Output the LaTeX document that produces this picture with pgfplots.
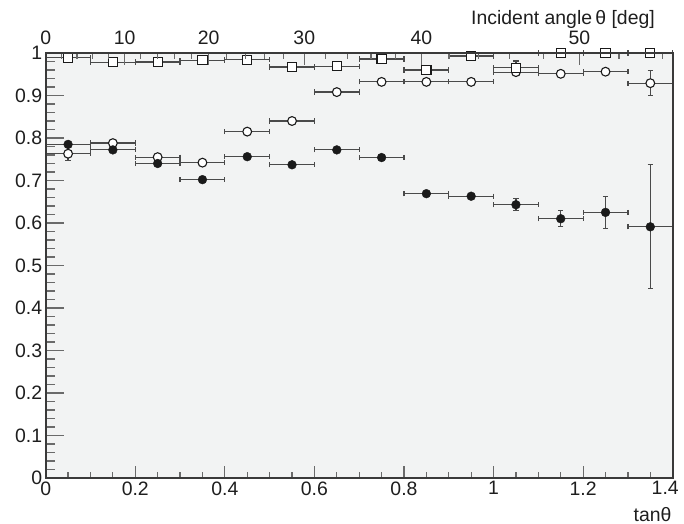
\documentclass[border=0pt]{standalone}
\usepackage{fontspec}
\setmainfont{Liberation Sans}
\usepackage{pgfplots}
\usepackage{pgfplotstable}
\pgfplotsset{compat=1.18}
\definecolor{bgc}{HTML}{F2F3F3}
\definecolor{framec}{HTML}{3A3A3A}
\definecolor{tickc}{HTML}{6A6A6A}
\definecolor{txt}{HTML}{1E1E1E}
\definecolor{mk}{HTML}{1A1A1A}
\definecolor{ebc}{HTML}{4A4A4A}

\pgfplotstableread{
x ex y ey
0.05 0.05 0.785 0
0.15 0.05 0.772 0
0.25 0.05 0.740 0
0.35 0.05 0.702 0
0.45 0.05 0.756 0
0.55 0.05 0.737 0
0.65 0.05 0.772 0
0.75 0.05 0.754 0
0.85 0.05 0.669 0
0.95 0.05 0.663 0
1.05 0.05 0.643 0.014
1.15 0.05 0.610 0.019
1.25 0.05 0.625 0.038
1.35 0.05 0.591 0.146
}\filled

\pgfplotstableread{
x ex y ey
0.05 0.05 0.763 0.016
0.15 0.05 0.788 0
0.25 0.05 0.755 0
0.35 0.05 0.742 0
0.45 0.05 0.815 0
0.55 0.05 0.840 0
0.65 0.05 0.908 0
0.75 0.05 0.932 0
0.85 0.05 0.932 0
0.95 0.05 0.932 0
1.05 0.05 0.955 0.005
1.15 0.05 0.951 0
1.25 0.05 0.956 0
1.35 0.05 0.929 0.029
}\opencirc

\pgfplotstableread{
x ex y ey
0.05 0.05 0.989 0
0.15 0.05 0.978 0
0.25 0.05 0.979 0
0.35 0.05 0.983 0
0.45 0.05 0.984 0
0.55 0.05 0.967 0
0.65 0.05 0.969 0
0.75 0.05 0.986 0
0.85 0.05 0.960 0.010
0.95 0.05 0.993 0
1.05 0.05 0.965 0.016
1.15 0.05 1.000 0
1.25 0.05 1.000 0
1.35 0.05 1.000 0
}\squares

\pgfplotsset{base/.style={
  scale only axis, width=627bp, height=425bp,
  xmin=0, xmax=1.4, ymin=0, ymax=1,
  at={(0,0)}, anchor=south west,
  tick align=inside,
  font=\fontsize{19.5}{21}\selectfont,
  /pgf/number format/assume math mode=true,
  tick style={tickc, line width=1.2bp},
  axis line style={framec, line width=1.6bp},
  clip=false,
  text=txt,
}}

\begin{document}
\begin{tikzpicture}
% background and y ticks
\begin{axis}[base,
  axis background/.style={fill=bgc},
  xtick=\empty,
  ytick={0,0.1,0.2,0.3,0.4,0.5,0.6,0.7,0.8,0.9,1},
  yticklabels={0,0.1,0.2,0.3,0.4,0.5,0.6,0.7,0.8,0.9,1},
  minor y tick num=4,
  ytick pos=left,
  major tick length=18bp, minor tick length=9bp,
]
\end{axis}
% bottom x ticks and data
\begin{axis}[base,
  ytick=\empty,
  xtick={0,0.2,0.4,0.6,0.8,1,1.2,1.4},
  xticklabels={0,0.2,0.4,0.6,0.8,1,1.2,{\makebox[12bp][r]{1.4}}},
  minor x tick num=3,
  xtick pos=left,
  major tick length=12bp, minor tick length=6bp,
  error bars/error bar style={ebc, line width=1.2bp},
  error bars/error mark options={ebc, line width=1.2bp, mark size=2.6bp, rotate=90},
]
\addplot[only marks, mark=*, mark size=4.4bp, mark options={draw=mk, fill=white, line width=1.1bp},
  error bars/.cd, x dir=both, x explicit, y dir=both, y explicit]
  table[x=x, y=y, x error=ex, y error=ey] {\opencirc};
\addplot[only marks, mark=*, mark size=4.4bp, mark options={draw=mk, fill=mk},
  error bars/.cd, x dir=both, x explicit, y dir=both, y explicit]
  table[x=x, y=y, x error=ex, y error=ey] {\filled};
\addplot[only marks, mark=square*, mark size=4.6bp, mark options={draw=mk, fill=white, line width=1.1bp},
  error bars/.cd, x dir=both, x explicit, y dir=both, y explicit]
  table[x=x, y=y, x error=ex, y error=ey] {\squares};
\end{axis}
% top angle axis
\begin{axis}[base,
  ytick=\empty,
  xtick={0,0.176327,0.363970,0.577350,0.839100,1.191754},
  xticklabels={0,10,20,30,40,50},
  minor xtick={0.034921,0.069927,0.105104,0.140541,0.212557,0.249328,0.286745,0.324920,0.404026,0.445229,0.487733,0.531709,0.624869,0.674509,0.726543,0.781286,0.900404,0.965689,1.035530,1.110613,1.279942,1.376382},
  xtick pos=right, xticklabel pos=right,
  xticklabel style={yshift=5bp},
  major tick length=12bp, minor tick length=6bp,
]
\end{axis}
\node[anchor=base east, text=txt, font=\fontsize{19.5}{21}\selectfont, inner sep=0pt] at (609.3bp,453bp) {Incident angle\,θ [deg]};
\node[anchor=base east, text=txt, font=\fontsize{19.5}{21}\selectfont, inner sep=0pt] at (626bp,-43bp) {tanθ};
\pgfresetboundingbox
\useasboundingbox (-45.7bp,-46bp) rectangle (638.3bp,478bp);
\end{tikzpicture}
\end{document}
